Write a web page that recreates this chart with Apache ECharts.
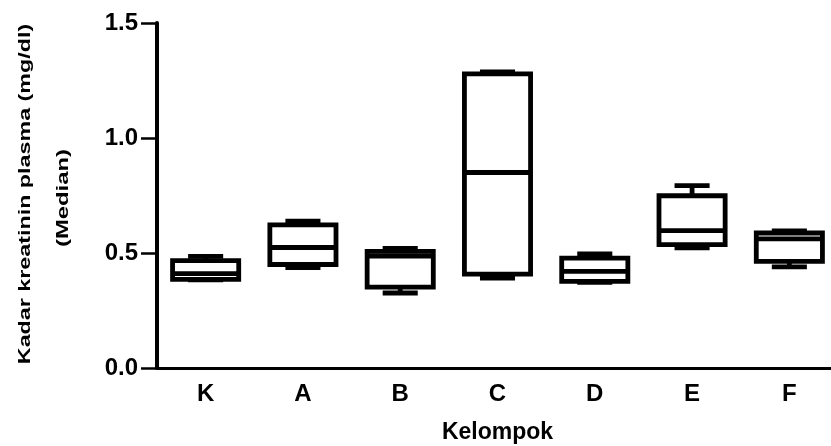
<!DOCTYPE html>
<html>
<head>
<meta charset="utf-8">
<script src="https://cdn.jsdelivr.net/npm/echarts@6/dist/echarts.min.js"></script>
<style>
  html, body { margin: 0; padding: 0; background: #fff; }
  #chart { width: 831px; height: 446px; }
</style>
</head>
<body>
<div id="chart"></div>
<script>
// Plasma creatinine per group: whisker ends, quartiles and median (mg/dl)
const categories = ['K', 'A', 'B', 'C', 'D', 'E', 'F'];
const minValues    = [0.383, 0.436, 0.326, 0.391, 0.372, 0.522, 0.440];
const q1Values     = [0.385, 0.450, 0.352, 0.408, 0.377, 0.536, 0.464];
const medianValues = [0.410, 0.524, 0.487, 0.850, 0.420, 0.597, 0.561];
const q3Values     = [0.467, 0.622, 0.507, 1.279, 0.478, 0.749, 0.587];
const maxValues    = [0.485, 0.639, 0.520, 1.287, 0.496, 0.793, 0.596];
const yTicks = [0, 0.5, 1.0, 1.5];
const yTitleLines = ['Kadar kreatinin plasma (mg/dl)', '(Median)'];
const xTitle = 'Kelompok';

const boxData = categories.map((c, i) => [i, minValues[i], q1Values[i], medianValues[i], q3Values[i], maxValues[i]]);

const FONT = '"Liberation Sans", Arial, sans-serif';
const LW = 4.8;

// Box: Q1..Q3 rectangle, median bar, whiskers with half-width end caps
function renderBox(params, api) {
  const i = api.value(0);
  const lo = api.coord([i, api.value(1)]);
  const q1 = api.coord([i, api.value(2)]);
  const md = api.coord([i, api.value(3)]);
  const q3 = api.coord([i, api.value(4)]);
  const hi = api.coord([i, api.value(5)]);
  const band = api.size([1, 0])[0];
  const w = band * 0.68;
  const cw = w * 0.53;
  const x = q1[0];
  const st = { stroke: '#000', lineWidth: LW, fill: 'transparent' };
  return {
    type: 'group',
    children: [
      { type: 'line', shape: { x1: x, y1: q3[1], x2: x, y2: hi[1] }, style: st },
      { type: 'line', shape: { x1: x, y1: q1[1], x2: x, y2: lo[1] }, style: st },
      { type: 'line', shape: { x1: x - cw / 2, y1: hi[1], x2: x + cw / 2, y2: hi[1] }, style: st },
      { type: 'line', shape: { x1: x - cw / 2, y1: lo[1], x2: x + cw / 2, y2: lo[1] }, style: st },
      { type: 'rect', shape: { x: x - w / 2, y: q3[1], width: w, height: q1[1] - q3[1] }, style: st },
      { type: 'line', shape: { x1: x - w / 2, y1: md[1], x2: x + w / 2, y2: md[1] }, style: st }
    ]
  };
}

const titleStyle = { fontFamily: FONT, fontWeight: 'bold', fontSize: 17, fill: '#000', align: 'center', verticalAlign: 'middle' };

const chart = echarts.init(document.getElementById('chart'), null, { renderer: 'canvas' });
chart.setOption({
  backgroundColor: '#fff',
  animation: false,
  grid: { left: 157, top: 23, width: 681, height: 345, containLabel: false, outerBoundsMode: 'none' },
  graphic: [
    // rotated, lengthwise-stretched y-axis title in two lines
    { type: 'text', x: 25, y: 194, rotation: Math.PI / 2, scaleX: 1.37, style: Object.assign({ text: yTitleLines[0] }, titleStyle) },
    { type: 'text', x: 63, y: 198, rotation: Math.PI / 2, scaleX: 1.40, style: Object.assign({ text: yTitleLines[1] }, titleStyle) }
  ],
  xAxis: {
    type: 'category',
    data: categories,
    boundaryGap: true,
    name: xTitle,
    nameLocation: 'middle',
    nameGap: 53,
    nameTextStyle: { fontFamily: FONT, fontWeight: 'bold', fontSize: 23, color: '#000' },
    axisLine: { lineStyle: { color: '#000', width: 3 } },
    axisTick: { alignWithLabel: true, length: 10, lineStyle: { color: '#000', width: 4 } },
    axisLabel: { margin: 14, fontFamily: FONT, fontWeight: 'bold', fontSize: 24, color: '#000' },
    splitLine: { show: false }
  },
  yAxis: {
    type: 'value',
    min: 0,
    max: 1.5,
    interval: 0.5,
    axisLine: { show: true, lineStyle: { color: '#000', width: 4 } },
    axisTick: { show: true, length: 16, lineStyle: { color: '#000', width: 2.5 } },
    axisLabel: {
      margin: 19, fontFamily: FONT, fontWeight: 'bold', fontSize: 24, color: '#000',
      customValues: yTicks,
      formatter: v => v.toFixed(1)
    },
    splitLine: { show: false }
  },
  series: [{
    type: 'custom',
    renderItem: renderBox,
    encode: { x: 0, y: [1, 2, 3, 4, 5] },
    data: boxData,
    silent: true
  }]
});
</script>
</body>
</html>
